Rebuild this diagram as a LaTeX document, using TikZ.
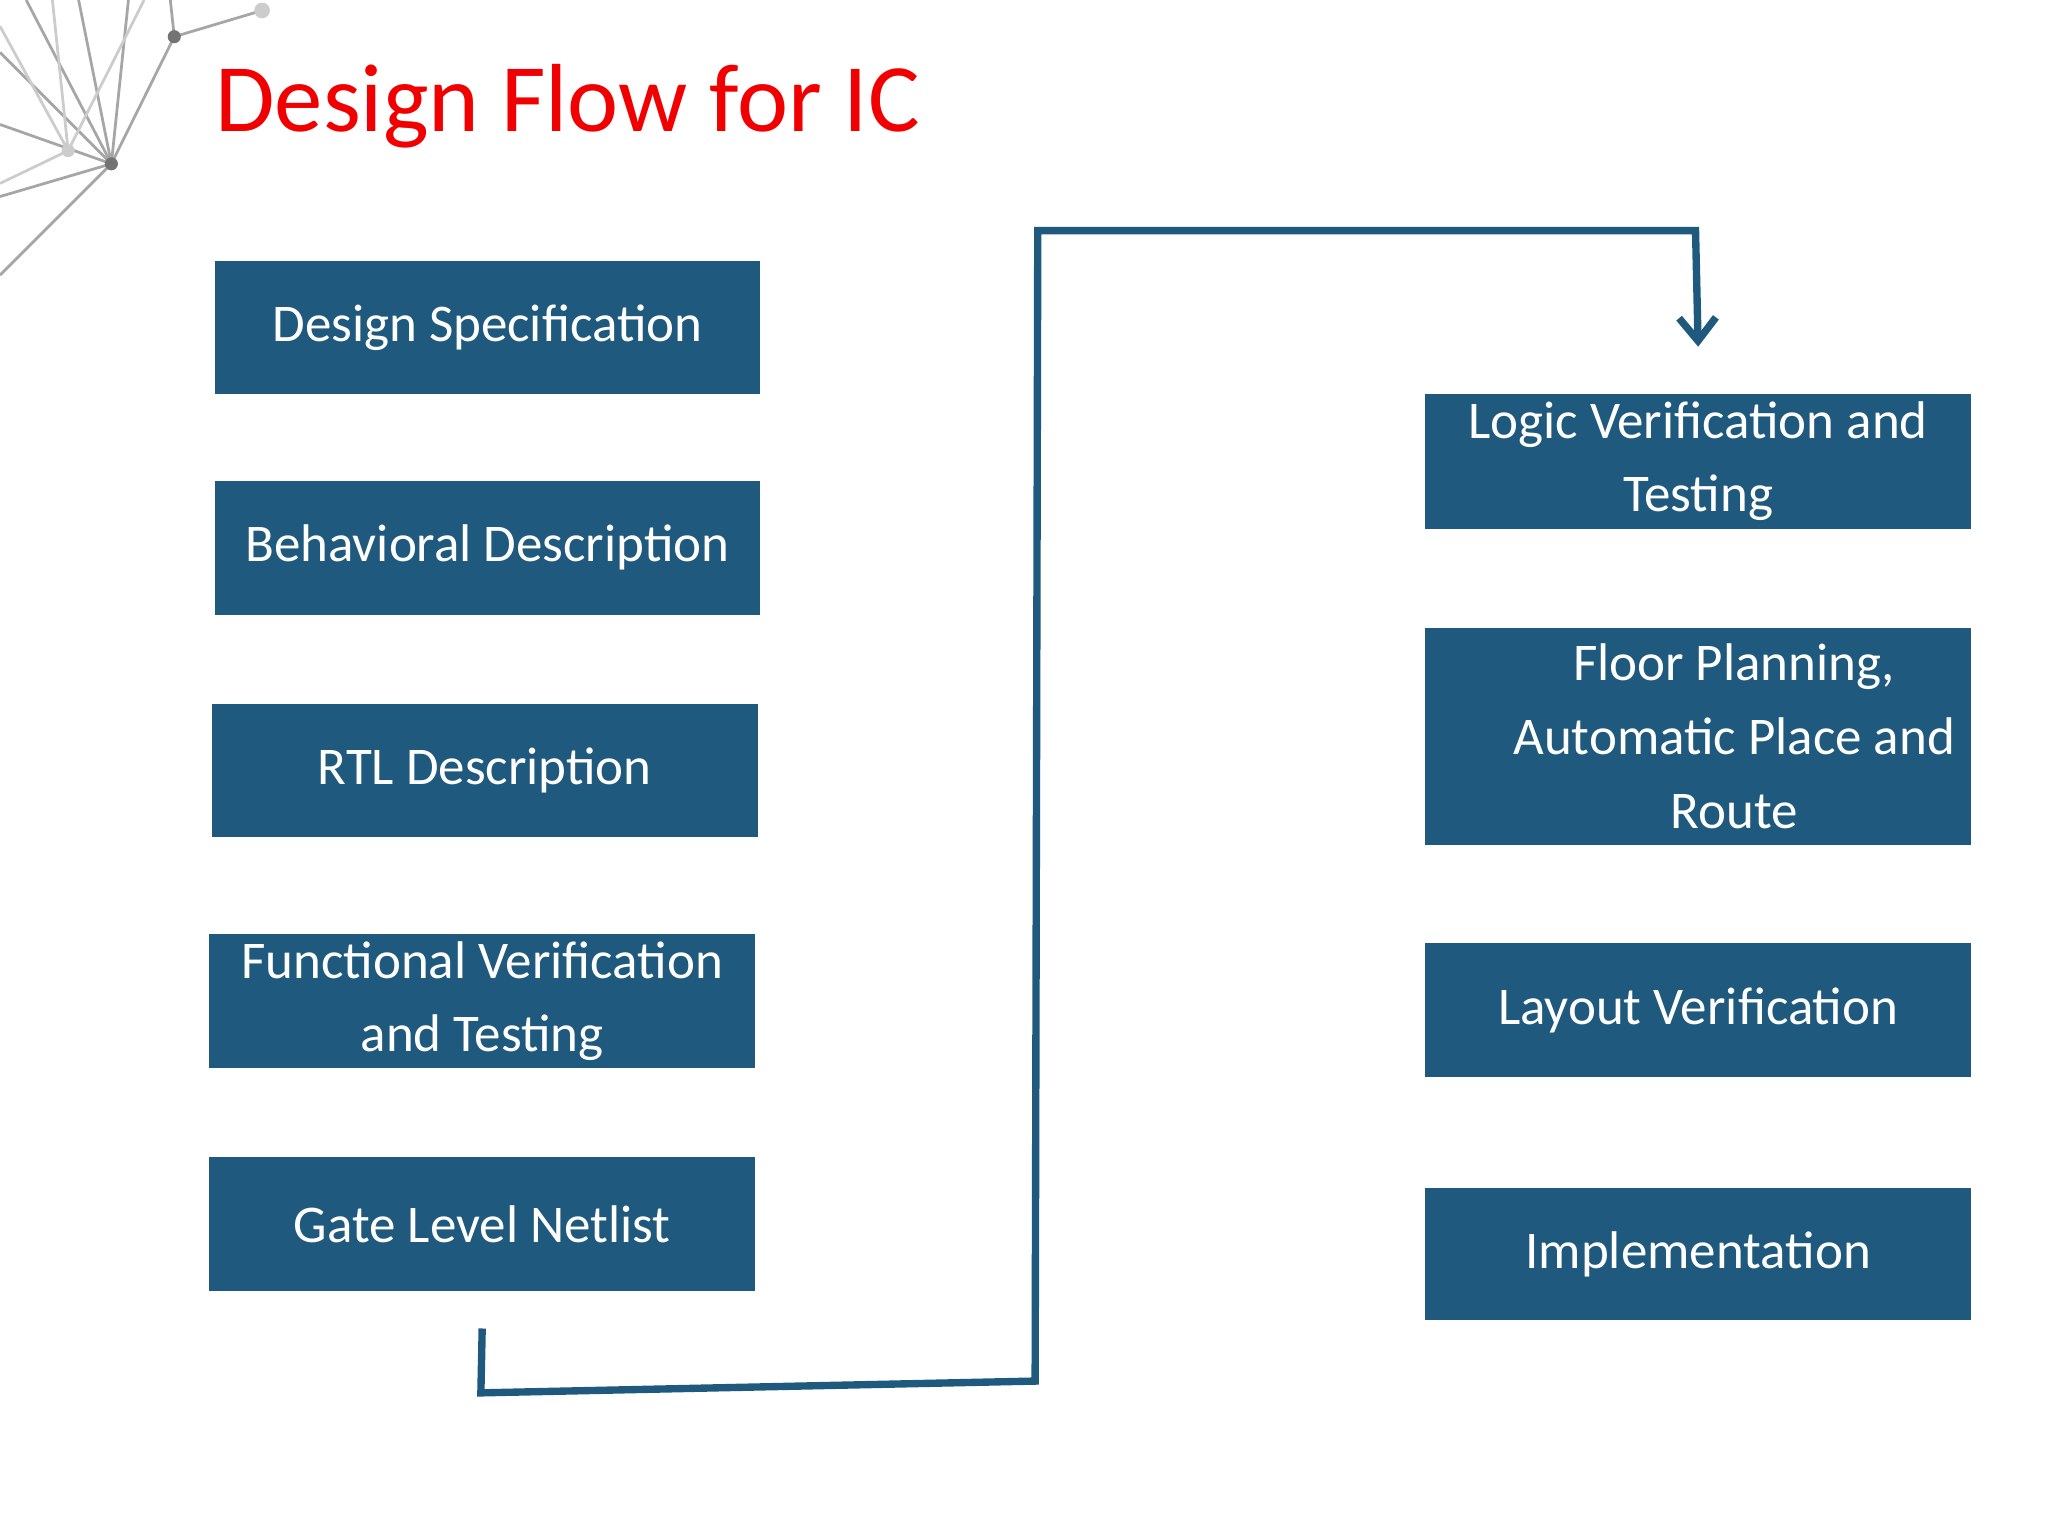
\documentclass[tikz,border=0pt]{standalone}
\usepackage{fontspec}
\setmainfont{Carlito}
\usetikzlibrary{positioning}
\usetikzlibrary{arrows.meta}
\definecolor{stepblue}{HTML}{1F5A7E}
\definecolor{titlered}{HTML}{F00000}
\begin{document}
\begin{tikzpicture}[x=0.01cm,y=-0.01cm,
                stage/.style={fill=stepblue,text=white,minimum width=4.16cm,
                  minimum height=1.02cm,align=center,font=\fontsize{11.5}{16}\selectfont,inner sep=0pt},
                flow/.style={draw=stepblue,line width=1.6pt},
                net/.style={draw=gray!70,line width=0.6pt}]
             \useasboundingbox (0,0) rectangle (1563,1172);
             % network decoration
             \coordinate (hub) at (85,125);
             \coordinate (top) at (133,28);
             \foreach \p in {(0,40),(0,95),(0,150),(0,210),(20,0),(60,0),(98,0),(133,28)}
               \draw[net] (hub) -- \p;
             \draw[net,gray!40] (52,115) -- (0,20) (52,115) -- (0,140) (52,115) -- (40,0) (52,115) -- (110,0);
             \draw[net] (top) -- (200,8) (top) -- (130,0);
             \fill[gray!90!black] (hub) circle (5);
             \fill[gray!90!black] (top) circle (5);
             \fill[gray!40] (52,115) circle (5) (200,8) circle (6);
             % title
             \node[anchor=base west,text=titlered,font=\fontsize{21}{25}\selectfont] (title) at (152,100) {Design Flow for IC};
             % left column
             \node[stage] (spec) at (372,250) {Design Specification};
             \node[stage] (behav) at (372,418) {Behavioral Description};
             \node[stage] (rtl) at (370,588) {RTL Description};
             \node[stage] (func) at (368,764) {Functional Verification\\and Testing};
             \node[stage] (gate) at (368,934) {Gate Level Netlist};
             % right column
             \node[stage,minimum height=1.03cm] (logic) at (1296,352) {Logic Verification and\\Testing};
             \node[stage,minimum height=1.65cm] (floor) at (1296,562) {\hspace*{0.55cm}Floor Planning,\\\hspace*{0.55cm}Automatic Place and\\\hspace*{0.55cm}Route};
             \node[stage] (layout) at (1296,771) {Layout Verification};
             \node[stage,minimum height=1cm] (impl) at (1296,957) {Implementation};
             % connector
             \coordinate (c1) at (367,1063);
             \coordinate (c2) at (790,1054);
             \coordinate (c3) at (792,176);
             \coordinate (c4) at (1294,176);
             \draw[flow,-{Straight Barb[length=5pt,width=8pt]}] ([yshift=-8]gate.south) -- (c1) -- (c2) -- (c3) -- (c4) -- ([yshift=10]logic.north);
\end{tikzpicture}
\end{document}
